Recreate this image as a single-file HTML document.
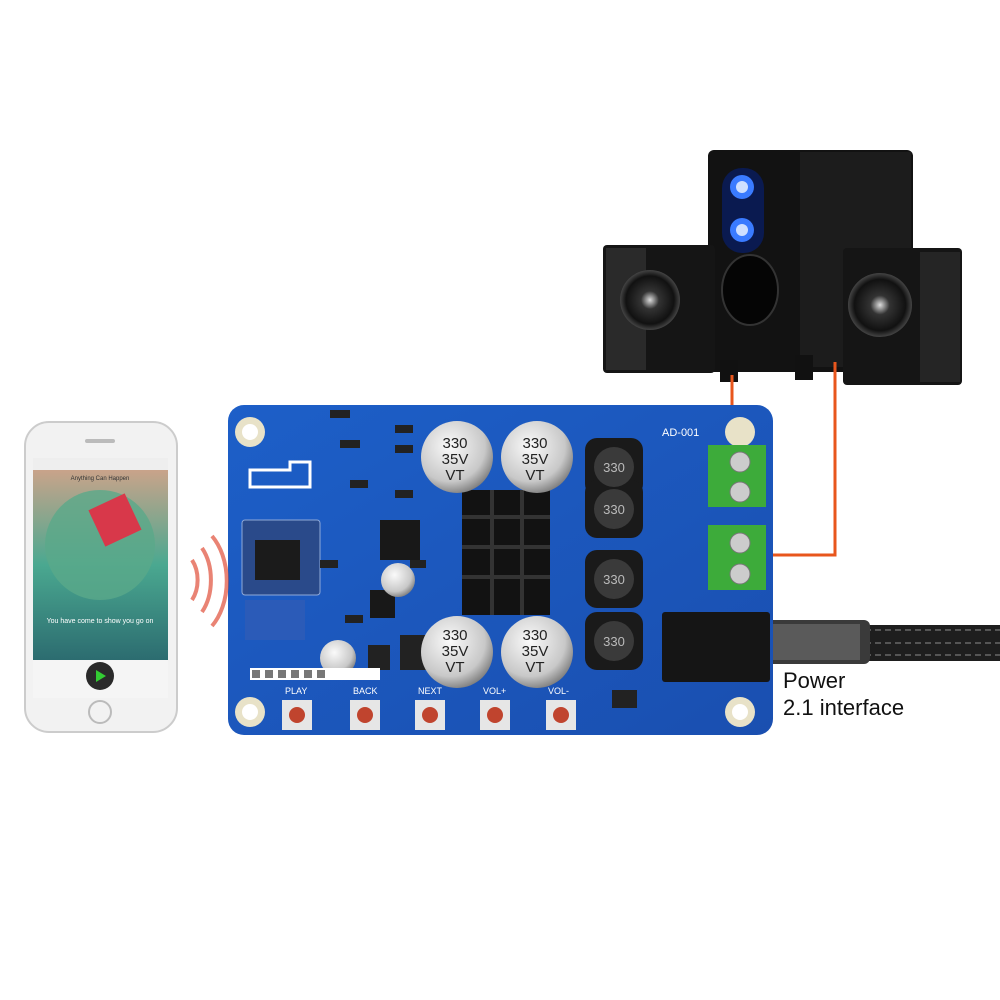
<!DOCTYPE html>
<html><head><meta charset="utf-8"><style>
body{margin:0;background:#fff;}
#c{position:relative;width:1000px;height:1000px;overflow:hidden;background:#fff;font-family:"Liberation Sans",sans-serif;}
.a{position:absolute;}
</style></head><body><div id="c">
<svg class="a" style="left:0;top:0" width="1000" height="1000" viewBox="0 0 1000 1000">
<defs>
<radialGradient id="cap" cx="40%" cy="35%" r="70%"><stop offset="0" stop-color="#fafafa"/><stop offset="0.7" stop-color="#c8c8c8"/><stop offset="1" stop-color="#777"/></radialGradient>
<linearGradient id="pcb" x1="0" y1="0" x2="1" y2="1"><stop offset="0" stop-color="#1d5fc8"/><stop offset="1" stop-color="#1a4fb0"/></linearGradient>
<radialGradient id="spk" cx="50%" cy="50%" r="50%"><stop offset="0" stop-color="#ddd"/><stop offset="0.3" stop-color="#333"/><stop offset="0.8" stop-color="#111"/><stop offset="1" stop-color="#444"/></radialGradient>
<linearGradient id="scr" x1="0" y1="0" x2="0" y2="1"><stop offset="0" stop-color="#c9a38a"/><stop offset="0.5" stop-color="#4aa890"/><stop offset="1" stop-color="#2c6c70"/></linearGradient>
</defs>
<rect x="708" y="150" width="205" height="222" rx="6" fill="#121212"/>
<rect x="800" y="152" width="111" height="215" fill="#1c1c1c"/>
<rect x="722" y="168" width="42" height="85" rx="20" fill="#0a1a50"/>
<circle cx="742" cy="187" r="12" fill="#3a7bff"/><circle cx="742" cy="187" r="6" fill="#cfe0ff"/>
<circle cx="742" cy="230" r="12" fill="#3a7bff"/><circle cx="742" cy="230" r="6" fill="#cfe0ff"/>
<ellipse cx="750" cy="290" rx="28" ry="35" fill="#050505" stroke="#333" stroke-width="2"/>
<rect x="720" y="360" width="18" height="22" fill="#111"/><rect x="795" y="355" width="18" height="25" fill="#111"/>
<rect x="603" y="245" width="112" height="128" rx="4" fill="#151515"/>
<rect x="606" y="248" width="40" height="122" fill="#2a2a2a"/>
<circle cx="650" cy="300" r="30" fill="url(#spk)"/>
<rect x="843" y="248" width="119" height="137" rx="4" fill="#151515"/>
<rect x="920" y="252" width="40" height="130" fill="#252525"/>
<circle cx="880" cy="305" r="32" fill="url(#spk)"/>
<polyline points="732,375 732,460" stroke="#e8561d" stroke-width="3" fill="none"/>
<polyline points="835,362 835,555 745,555" stroke="#e8561d" stroke-width="3" fill="none"/>
<rect x="775" y="625" width="230" height="36" fill="#1e1e1e"/>
<path d="M775 630 L1000 630 M775 643 L1000 643 M775 655 L1000 655" stroke="#555" stroke-width="2" stroke-dasharray="6 4"/>
<rect x="760" y="620" width="110" height="44" rx="6" fill="#3a3a3a"/>
<rect x="770" y="624" width="90" height="36" fill="#5a5a5a"/>
<rect x="228" y="405" width="545" height="330" rx="16" fill="url(#pcb)"/>
<circle cx="250" cy="432" r="15" fill="#e8e2c8"/><circle cx="250" cy="432" r="8" fill="#fff"/>
<circle cx="250" cy="712" r="15" fill="#e8e2c8"/><circle cx="250" cy="712" r="8" fill="#fff"/>
<circle cx="740" cy="712" r="15" fill="#e8e2c8"/><circle cx="740" cy="712" r="8" fill="#fff"/>
<circle cx="740" cy="432" r="15" fill="#e8e2c8"/>
<path d="M250 470 h40 v-8 h20 v25 h-60z" fill="none" stroke="#fff" stroke-width="3"/>
<rect x="242" y="520" width="78" height="75" rx="3" fill="#2a4a8a" stroke="#8fa9d8"/>
<rect x="255" y="540" width="45" height="40" fill="#1b1b1b"/>
<rect x="245" y="600" width="60" height="40" fill="#2b5bb8"/>
<rect x="380" y="520" width="40" height="40" fill="#181818"/>
<rect x="370" y="590" width="25" height="28" fill="#181818"/>
<g fill="#222"><rect x="330" y="410" width="20" height="8"/><rect x="340" y="440" width="20" height="8"/><rect x="395" y="425" width="18" height="8"/><rect x="395" y="445" width="18" height="8"/><rect x="350" y="480" width="18" height="8"/><rect x="395" y="490" width="18" height="8"/><rect x="320" y="560" width="18" height="8"/><rect x="345" y="615" width="18" height="8"/><rect x="410" y="560" width="16" height="8"/></g>
<circle cx="398" cy="580" r="17" fill="url(#cap)"/>
<circle cx="338" cy="658" r="18" fill="url(#cap)"/>
<rect x="368" y="645" width="22" height="25" fill="#222"/>
<rect x="400" y="635" width="30" height="35" fill="#222"/>
<rect x="250" y="668" width="130" height="12" fill="#fff"/>
<g fill="#777"><rect x="252" y="670" width="8" height="8"/><rect x="265" y="670" width="8" height="8"/><rect x="278" y="670" width="8" height="8"/><rect x="291" y="670" width="8" height="8"/><rect x="304" y="670" width="8" height="8"/><rect x="317" y="670" width="8" height="8"/></g>
<rect x="462" y="490" width="88" height="125" fill="#121212"/>
<g fill="#333"><rect x="462" y="515" width="88" height="4"/><rect x="462" y="545" width="88" height="4"/><rect x="462" y="575" width="88" height="4"/><rect x="490" y="490" width="4" height="125"/><rect x="520" y="490" width="4" height="125"/></g>
<g><circle cx="457" cy="457" r="36" fill="url(#cap)"/><circle cx="537" cy="457" r="36" fill="url(#cap)"/><circle cx="457" cy="652" r="36" fill="url(#cap)"/><circle cx="537" cy="652" r="36" fill="url(#cap)"/></g>
<g font-family="Liberation Sans" font-size="15" fill="#222" text-anchor="middle">
<text x="455" y="448">330</text><text x="455" y="464">35V</text><text x="455" y="480">VT</text>
<text x="535" y="448">330</text><text x="535" y="464">35V</text><text x="535" y="480">VT</text>
<text x="455" y="640">330</text><text x="455" y="656">35V</text><text x="455" y="672">VT</text>
<text x="535" y="640">330</text><text x="535" y="656">35V</text><text x="535" y="672">VT</text>
</g>
<g fill="#1a1a1a"><rect x="585" y="438" width="58" height="58" rx="12"/><rect x="585" y="480" width="58" height="58" rx="12"/><rect x="585" y="550" width="58" height="58" rx="12"/><rect x="585" y="612" width="58" height="58" rx="12"/></g>
<g fill="#3a3a3a"><circle cx="614" cy="467" r="20"/><circle cx="614" cy="509" r="20"/><circle cx="614" cy="579" r="20"/><circle cx="614" cy="641" r="20"/></g>
<g font-family="Liberation Sans" font-size="13" fill="#bbb" text-anchor="middle"><text x="614" y="472">330</text><text x="614" y="514">330</text><text x="614" y="584">330</text><text x="614" y="646">330</text></g>
<text x="662" y="436" font-family="Liberation Sans" font-size="11" fill="#fff">AD-001</text>
<rect x="708" y="445" width="58" height="62" fill="#3dab3a"/><rect x="708" y="525" width="58" height="65" fill="#3dab3a"/>
<g fill="#ccc" stroke="#777"><circle cx="740" cy="462" r="10"/><circle cx="740" cy="492" r="10"/><circle cx="740" cy="543" r="10"/><circle cx="740" cy="574" r="10"/></g>
<rect x="662" y="612" width="108" height="70" rx="3" fill="#151515"/>
<g fill="#e6e6e6"><rect x="282" y="700" width="30" height="30"/><rect x="350" y="700" width="30" height="30"/><rect x="415" y="700" width="30" height="30"/><rect x="480" y="700" width="30" height="30"/><rect x="546" y="700" width="30" height="30"/></g>
<g fill="#c0442e"><circle cx="297" cy="715" r="8"/><circle cx="365" cy="715" r="8"/><circle cx="430" cy="715" r="8"/><circle cx="495" cy="715" r="8"/><circle cx="561" cy="715" r="8"/></g>
<g font-family="Liberation Sans" font-size="9" fill="#fff"><text x="285" y="694">PLAY</text><text x="353" y="694">BACK</text><text x="418" y="694">NEXT</text><text x="483" y="694">VOL+</text><text x="548" y="694">VOL-</text></g>
<rect x="612" y="690" width="25" height="18" fill="#222"/>
<g fill="none" stroke="#e0503a" stroke-width="4" opacity="0.7"><path d="M192 560 a22 30 0 0 1 0 40"/><path d="M202 548 a30 45 0 0 1 0 64"/><path d="M212 536 a40 58 0 0 1 0 90"/></g>
<rect x="25" y="422" width="152" height="310" rx="24" fill="#f2f2f2" stroke="#ccc" stroke-width="2"/>
<rect x="33" y="458" width="135" height="240" fill="#eee"/>
<rect x="33" y="470" width="135" height="190" fill="url(#scr)"/>
<circle cx="100" cy="545" r="55" fill="#5aa98a" opacity="0.8"/>
<rect x="95" y="500" width="40" height="40" fill="#d8384a" transform="rotate(-25 115 520)"/>
<rect x="33" y="660" width="135" height="38" fill="#f5f5f5"/>
<circle cx="100" cy="676" r="14" fill="#2a2a2a"/><path d="M96 670 L106 676 L96 682z" fill="#3c3"/>
<circle cx="100" cy="712" r="11" fill="none" stroke="#bbb" stroke-width="2"/>
<rect x="85" y="439" width="30" height="4" rx="2" fill="#bbb"/>
<text x="100" y="480" font-family="Liberation Sans" font-size="6" fill="#333" text-anchor="middle">Anything Can Happen</text>
<text x="100" y="623" font-family="Liberation Sans" font-size="7" fill="#fff" text-anchor="middle">You have come to show you go on</text>
</svg>
<div class="a" style="left:783px;top:667px;font-size:22px;line-height:27px;color:#111;">Power<br>2.1 interface</div>
</div></body></html>
